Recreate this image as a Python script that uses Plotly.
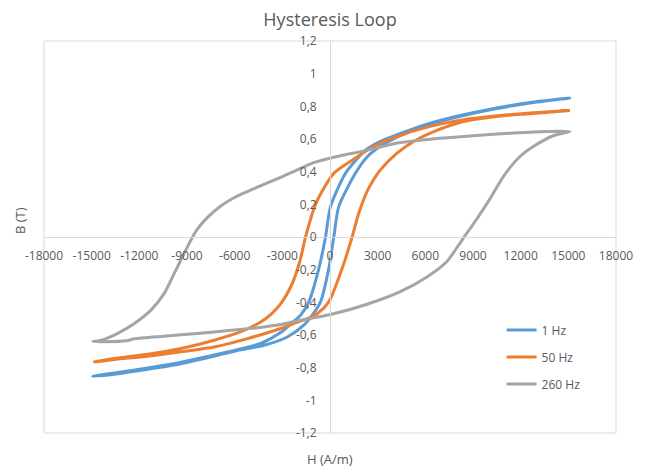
import plotly.graph_objects as go

# ---- data ----
# each loop: descending branch (+Hmax -> -Hmax) then ascending branch (-Hmax -> +Hmax)
H_1HZ = [15100, 12586, 10494, 8400, 6309, 4218, 3170, 2122, 1808, 973, 31, -282, -700, -1331,
         -1852, -2272, -3107, -4362, -5825, -7294, -9384, -11474, -13571, -14950,
         -13571, -11474, -9384, -7294, -5825, -4155, -2687, -1645, -1117, -596, -75, 240, 552,
         1600, 2335, 3170, 4218, 6309, 8400, 10494, 12586, 15100]
B_1HZ = [0.851, 0.824, 0.790, 0.748, 0.697, 0.626, 0.585, 0.523, 0.490, 0.390, 0.186, 0.0, -0.192, -0.397,
         -0.479, -0.515, -0.585, -0.652, -0.690, -0.722, -0.767, -0.802, -0.832, -0.853,
         -0.840, -0.810, -0.776, -0.730, -0.695, -0.663, -0.612, -0.540, -0.479, -0.397, -0.192, 0.0, 0.186,
         0.390, 0.490, 0.555, 0.612, 0.690, 0.743, 0.786, 0.820, 0.851]

H_50HZ = [15100, 12586, 10494, 8400, 6309, 4218, 2750, 1707, 240, -910, -1538, -1900, -2400,
          -3107, -3735, -4362, -5618, -7294, -9384, -11474, -13571, -14830,
          -13571, -11474, -9384, -7294, -5197, -3107, -2300, -1431, -804, -75, 766, 1393, 1808,
          2335, 2800, 3170, 4218, 5260, 6309, 8400, 10494, 12586, 15100]
B_50HZ = [0.775, 0.759, 0.742, 0.718, 0.677, 0.615, 0.554, 0.490, 0.390, 0.200, 0.0, -0.150, -0.290,
          -0.410, -0.475, -0.520, -0.580, -0.632, -0.683, -0.718, -0.744, -0.765,
          -0.750, -0.730, -0.703, -0.673, -0.622, -0.560, -0.530, -0.500, -0.470, -0.397, -0.192, 0.0, 0.145,
          0.280, 0.360, 0.411, 0.513, 0.585, 0.636, 0.707, 0.738, 0.755, 0.775]

H_260HZ = [15100, 14470, 12586, 10494, 8400, 6309, 4218, 2122, 660, -1017, -1852, -3107, -4570,
           -5197, -6038, -6873, -7708, -8336, -8650, -9177, -9805, -10433, -11267, -12316, -13358,
           -14405, -14930,
           -14200, -12800, -12316, -10433, -8336, -6246, -4570, -3107, -1852, 31, 2335, 4425, 6101,
           7357, 8300, 9240, 10075, 10910, 11958, 12796, 14050, 15100]
B_260HZ = [0.646, 0.648, 0.642, 0.630, 0.615, 0.599, 0.575, 0.526, 0.497, 0.455, 0.420, 0.365, 0.305,
           0.278, 0.240, 0.190, 0.120, 0.050, 0.0, -0.100, -0.223, -0.345, -0.448, -0.530, -0.590,
           -0.632, -0.640,
           -0.641, -0.635, -0.623, -0.607, -0.591, -0.571, -0.556, -0.536, -0.509, -0.475, -0.412, -0.335, -0.245,
           -0.150, -0.020, 0.110, 0.235, 0.370, 0.493, 0.554, 0.620, 0.646]

SERIES = ["1 Hz", "50 Hz", "260 Hz"]
COLORS = ["#5B9BD5", "#ED7D31", "#A5A5A5"]

X_TICKS = [-18000, -15000, -12000, -9000, -6000, -3000, 0, 3000, 6000, 9000, 12000, 15000, 18000]
X_TICK_TEXT = ["-18000", "-15000", "-12000", "-9000", "-6000", "-3000", "0", "3000", "6000",
               "9000", "12000", "15000", "18000"]
Y_TICKS = [-1.2, -1.0, -0.8, -0.6, -0.4, -0.2, 0, 0.2, 0.4, 0.6, 0.8, 1.0, 1.2]
Y_TICK_TEXT = ["-1,2", "-1", "-0,8", "-0,6", "-0,4", "-0,2", "0", "0,2", "0,4", "0,6", "0,8", "1", "1,2"]

# ---- figure ----
fig = go.Figure()
for name, hx, by, col in zip(SERIES, [H_1HZ, H_50HZ, H_260HZ], [B_1HZ, B_50HZ, B_260HZ], COLORS):
    fig.add_trace(go.Scatter(
        x=hx, y=by, mode="lines", name=name, legendgroup=name,
        line=dict(color=col, width=3, shape="spline", smoothing=0.7),
    ))

FONT = "Open Sans"
TXT = "#595959"
AX = "#D9D9D9"

fig.update_layout(
    width=646, height=468,
    margin=dict(l=44, r=30, t=41, b=35),
    paper_bgcolor="white", plot_bgcolor="white",
    font=dict(family=FONT, color=TXT, size=12),
    title=dict(text="Hysteresis Loop", x=0.5, xref="paper", xanchor="center",
               y=1 - 20 / 468, yref="container", yanchor="middle",
               font=dict(size=18, color=TXT, family=FONT)),
    showlegend=True,
    legend=dict(x=0.80, y=0.30, xanchor="left", yanchor="top",
                bgcolor="rgba(0,0,0,0)", font=dict(size=12, color=TXT, family=FONT),
                tracegroupgap=8),
    xaxis=dict(range=[-18000, 18000], tickvals=X_TICKS, ticktext=X_TICK_TEXT,
               anchor="free", position=0.5, showgrid=False, zeroline=False,
               showline=True, linecolor=AX, linewidth=1, ticks="",
               ticklabelstandoff=8, tickfont=dict(size=12, color=TXT, family=FONT)),
    yaxis=dict(range=[-1.2, 1.2], tickvals=Y_TICKS, ticktext=Y_TICK_TEXT,
               anchor="free", position=0.5, showgrid=False, zeroline=False,
               showline=True, linecolor=AX, linewidth=1, ticks="",
               ticklabelstandoff=11, tickfont=dict(size=12, color=TXT, family=FONT)),
    shapes=[dict(type="rect", xref="paper", yref="paper", x0=0, y0=0, x1=1, y1=1,
                 line=dict(color=AX, width=1), layer="below")],
    annotations=[
        dict(text="H (A/m)", xref="paper", yref="paper", x=0.5, y=(433 - 459) / 392,
             xanchor="center", yanchor="middle", showarrow=False,
             font=dict(size=13, color=TXT, family=FONT)),
        dict(text="B (T)", xref="paper", yref="paper", x=(20 - 44) / 572, y=(433 - 221) / 392,
             xanchor="center", yanchor="middle", showarrow=False, textangle=-90,
             font=dict(size=13, color=TXT, family=FONT)),
    ],
)

fig.write_html("out.html", config={"displayModeBar": False},
               post_script="document.body.style.margin='0px';document.body.style.overflow='hidden';")
